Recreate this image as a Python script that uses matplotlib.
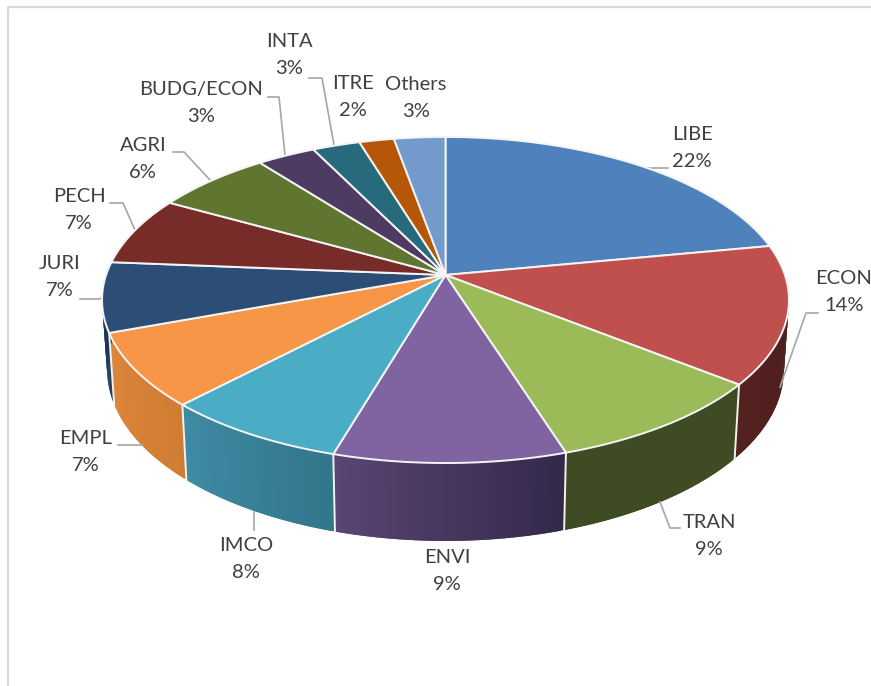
import numpy as np
import matplotlib
matplotlib.use('Agg')
import matplotlib.pyplot as plt
from matplotlib.colors import to_rgb

plt.rcParams['font.family'] = ['Lato', 'DejaVu Sans']

categories = ['LIBE', 'ECON', 'TRAN', 'ENVI', 'IMCO', 'EMPL', 'JURI', 'PECH', 'AGRI',
              'BUDG/ECON', 'INTA', 'ITRE', 'Others']
# shares, the labels round them
shares = [22, 13.7, 9.4, 9.45, 7.55, 7.3, 6.9, 6.8, 6.4, 3.2, 2.6, 1.9, 2.8]

top_colors = ['#4F81BD', '#C0504D', '#9BBB59', '#8064A2', '#4BACC6', '#F79646', '#2C4D75',
              '#772C2A', '#5F7530', '#4D3B62', '#276A7C', '#B65708', '#729ACA']
# wall colour at the clockwise start and end of each slice
wall_start = ['#2F4D71', '#4A1E1C', '#3E4B23', '#33294A', '#32768A', '#D07C33', '#1C3656',
              '#47191A', '#394619', '#2E233B', '#173F4A', '#6D3405', '#445C79']
wall_end = ['#2F4D71', '#54211F', '#3E4B23', '#5A4474', '#3F8BA5', '#DC863A', '#1C3656',
            '#47191A', '#394619', '#2E233B', '#173F4A', '#6D3405', '#445C79']

# label centres, in pixels
label_x = [692, 844, 709, 447, 246, 86, 60, 79, 143, 201, 289, 353, 416]
label_y = [148, 292, 536, 571, 559, 452, 277, 210, 159, 103, 55, 97, 98]

leaders = [
    ([648, 668], [168, 168]),
    ([780, 806, 818], [387, 313, 313]),
    ([660, 670, 680], [502, 528, 528]),
    ([254, 254], [512, 530]),
    ([118, 143], [445, 445]),
    ([80, 100, 102], [299, 299, 297]),
    ([110, 123, 135], [203, 203, 230]),
    ([173, 184, 210], [152, 152, 180]),
    ([268, 279, 285], [97, 97, 155]),
    ([309, 322, 334], [78, 78, 145]),
]

CX, CY = 445.5, 275
A, B, P = 339.4, 159.2, 0.1533


def project(angle, bottom=False):
    """Clockwise angle from the top of the pie to image pixels, with perspective."""
    u, v = np.sin(angle), np.cos(angle)
    d = 1 + P * v
    x, y = A * u / d, -B * v / d
    if bottom:
        return CX + 0.985 * x, CY + 68.5 + 1.05 * y
    return CX + x, CY + y


fig = plt.figure(figsize=(8.71, 6.86), dpi=100)
ax = fig.add_axes([0, 0, 1, 1])
ax.set_xlim(0, 871)
ax.set_ylim(686, 0)
ax.axis('off')

ax.plot([8, 8, 871], [686, 7, 7], color='#d9d9d9', lw=1.6, zorder=1)

edges = 2 * np.pi * np.concatenate([[0], np.cumsum(shares)]) / sum(shares)

# side walls, each strip overlaps the next one so no seams show
for i in range(len(shares)):
    a = np.linspace(edges[i], edges[i + 1], 60)
    c0, c1 = np.array(to_rgb(wall_start[i])), np.array(to_rgb(wall_end[i]))
    for j in range(len(a) - 1):
        t = j / (len(a) - 2)
        seg = a[j:j + 3]
        xt, yt = project(seg)
        xb, yb = project(seg[::-1], True)
        ax.fill(np.r_[xt, xb], np.r_[yt, yb], color=c0 + (c1 - c0) * t, lw=0, zorder=2)

# white seams between the walls
for e in edges:
    x0, y0 = project(e)
    x1, y1 = project(e, True)
    if y1 > CY + 80:
        ax.plot([x0, x1], [y0, y1], color='#f2f2f2', lw=1.4, zorder=3)

# top of the pie
for i in range(len(shares)):
    a = np.linspace(edges[i], edges[i + 1], 120)
    x, y = project(a)
    ax.fill(np.r_[CX, x], np.r_[CY, y], facecolor=top_colors[i], edgecolor='#f4f4f4', lw=1.4,
            joinstyle='round', zorder=4)

for xs, ys in leaders:
    ax.plot(xs, ys, color='#a6a6a6', lw=1.2, zorder=3)

for name, share, x, y in zip(categories, shares, label_x, label_y):
    ax.text(x, y, '{}\n{:.0f}%'.format(name, share), ha='center', va='center', fontsize=14.5,
            color='#404040', linespacing=1.75, zorder=6)

fig.savefig('out.png', dpi=100)
